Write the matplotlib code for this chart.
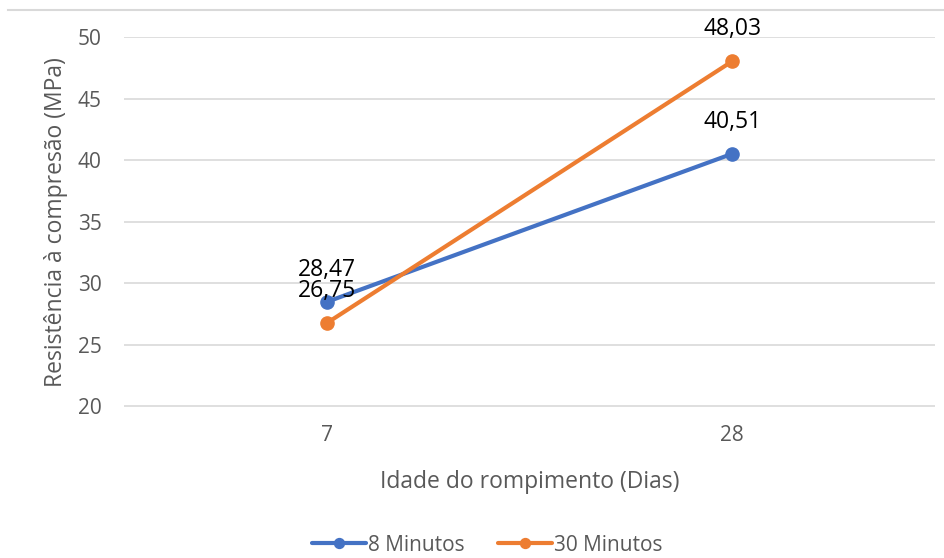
import matplotlib.pyplot as plt
from matplotlib.lines import Line2D

plt.rcParams['font.family'] = ['Open Sans', 'DejaVu Sans']

# compressive strength by curing age, for two mixing times
idades = ["7", "28"]
serie_8min = [28.47, 40.51]
serie_30min = [26.75, 48.03]
nomes = ["8 Minutos", "30 Minutos"]
cores = ["#4472C4", "#ED7D31"]
yticks = [20, 25, 30, 35, 40, 45, 50]

fig = plt.figure(figsize=(9.44, 5.58), dpi=100)
ax = fig.add_axes([0.1314, 0.2706, 0.8591, 0.6631])

xs = list(range(len(idades)))
for vals, nome, cor in zip([serie_8min, serie_30min], nomes, cores):
    ax.plot(xs, vals, color=cor, lw=3, marker="o", ms=9.5, label=nome,
            solid_capstyle="round", zorder=3)
    for x, v in zip(xs, vals):
        ax.annotate(f"{v:.2f}".replace(".", ","), (x, v), xytext=(0, 23),
                    textcoords="offset points", ha="center", va="center",
                    fontsize=16.5, color="#000000")

ax.set_xlim(-0.5, 1.5)
ax.set_ylim(19.93, 50)
ax.set_xticks(xs)
ax.set_xticklabels(idades)
ax.set_yticks(yticks)
ax.grid(axis="y", color="#D9D9D9", lw=1.2)
ax.set_axisbelow(True)
for s in ax.spines.values():
    s.set_visible(False)
ax.tick_params(length=0, labelsize=15, labelcolor="#595959")
ax.tick_params(axis="x", pad=13)
ax.tick_params(axis="y", pad=16)

ax.set_xlabel("Idade do rompimento (Dias)", fontsize=16.5, color="#595959",
              labelpad=17)
ax.set_ylabel("Resistência à compresão (MPa)", fontsize=16.5, color="#595959",
              labelpad=7)

ax.legend(loc="center", bbox_to_anchor=(0.448, -0.373), ncol=2, frameon=False,
          fontsize=15, labelcolor="#595959", handlelength=2.6,
          handletextpad=0.1, columnspacing=1.6, borderpad=0, markerscale=0.75)

# frame line along the top of the chart area
fig.add_artist(Line2D([0.008, 1.0], [0.982, 0.982], color="#D9D9D9", lw=1.5,
                      transform=fig.transFigure))

fig.savefig("out.png", dpi=100, facecolor="white")
